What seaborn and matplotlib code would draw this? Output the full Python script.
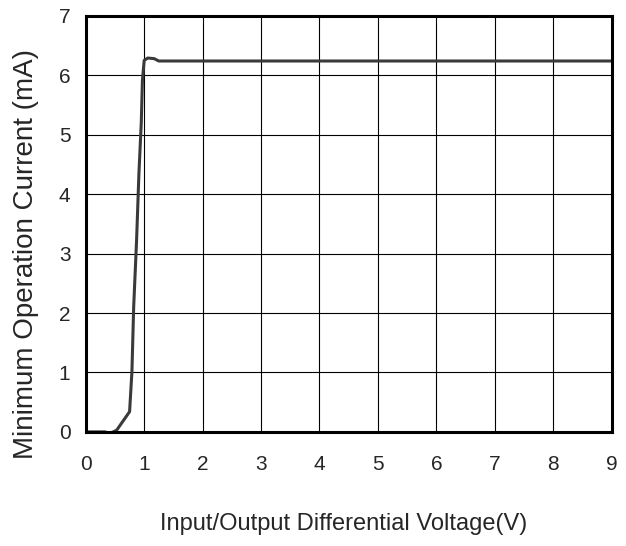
import matplotlib
matplotlib.use("Agg")
import matplotlib.pyplot as plt
import numpy as np
import pandas as pd
import seaborn as sns

# curve
voltage = [0.0, 0.33, 0.41, 0.53, 0.75, 0.79, 0.82, 0.87, 0.91, 0.95, 0.97, 1.0, 1.06, 1.17, 1.25, 2.0, 4.0, 6.0, 9.0]
current = [0.0, 0.0, -0.03, 0.03, 0.34, 1.01, 2.1, 3.23, 4.35, 5.2, 5.92, 6.25, 6.29, 6.28, 6.24, 6.24, 6.24, 6.24, 6.24]
x_ticks = list(range(0, 10))
y_ticks = list(range(0, 8))

df = pd.DataFrame({"v": voltage, "i": current})

sns.set_style("white")
plt.rcParams['font.family'] = ['Liberation Sans', 'DejaVu Sans']

fig = plt.figure(figsize=(6.26, 5.46), dpi=100)
ax = fig.add_axes([0.137, 0.209, 0.840, 0.762])

sns.lineplot(data=df, x="v", y="i", sort=False, color="#3a3a3a", linewidth=2.2, ax=ax)

ax.set_xlim(0, 9)
ax.set_ylim(0, 7)
ax.set_xticks(x_ticks)
ax.set_yticks(y_ticks)
ax.grid(True, color="black", linewidth=0.8)
ax.tick_params(axis="both", labelsize=15, length=0)
ax.tick_params(axis="x", pad=17)
ax.tick_params(axis="y", pad=11)
for s in ax.spines.values():
    s.set_color("black")
    s.set_linewidth(2.2)

ax.set_xlabel("Input/Output Differential Voltage(V)", fontsize=17)
ax.set_ylabel("Minimum Operation Current (mA)", fontsize=20)
ax.xaxis.set_label_coords(0.49, -0.194)
ax.yaxis.set_label_coords(-0.088, 0.428)

fig.savefig("out.png", dpi=100)
